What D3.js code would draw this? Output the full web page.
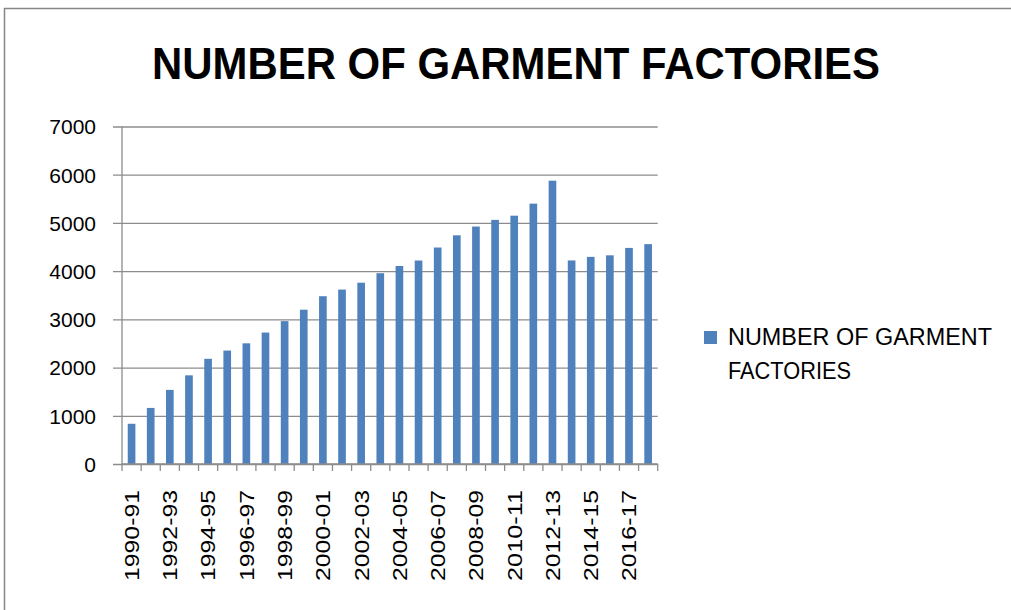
<!DOCTYPE html>
<html>
<head>
<meta charset="utf-8">
<script src="https://cdn.jsdelivr.net/npm/d3@7"></script>
<style>
  body { margin: 0; background: #fff; }
  svg { display: block; }
  text { font-family: "Liberation Sans", Arial, sans-serif; fill: #000; }
</style>
</head>
<body>
<svg></svg>
<script>
let years = ['1990-91','1991-92','1992-93','1993-94','1994-95','1995-96','1996-97','1997-98',
    '1998-99','1999-00','2000-01','2001-02','2002-03','2003-04','2004-05','2005-06','2006-07',
    '2007-08','2008-09','2009-10','2010-11','2011-12','2012-13','2013-14','2014-15','2015-16',
    '2016-17','2017-18'];
let factories = [834, 1163, 1537, 1839, 2182, 2353, 2503, 2726, 2963, 3200, 3480, 3618, 3760,
    3957, 4107, 4220, 4490, 4743, 4925, 5063, 5150, 5400, 5876, 4222, 4296, 4328, 4482, 4560];
let yTicks = [0, 1000, 2000, 3000, 4000, 5000, 6000, 7000];
let title = 'NUMBER OF GARMENT FACTORIES';
let legendLines = ['NUMBER OF GARMENT', 'FACTORIES'];

let width = 1011;
let height = 610;
let plotLeft = 122, plotRight = 657.7, plotTop = 126.5, plotBottom = 464;
let barColor = '#4f81bd';

let svg = d3.select('svg').attr('width', width).attr('height', height);

// chart frame
svg.append('rect')
    .attr('x', 4.5).attr('y', 8.5)
    .attr('width', width + 20).attr('height', height + 20)
    .attr('fill', 'none').attr('stroke', '#868686').attr('stroke-width', 1.5);

svg.append('text')
    .attr('x', 516).attr('y', 78.5)
    .attr('text-anchor', 'middle')
    .attr('font-size', 44).attr('font-weight', 'bold')
    .attr('textLength', 728).attr('lengthAdjust', 'spacingAndGlyphs')
    .text(title);

let xScale = d3.scaleBand()
    .domain(years)
    .range([plotLeft, plotRight])
    .paddingInner(0.6)
    .paddingOuter(0.3);

let yScale = d3.scaleLinear()
    .domain([0, 7000])
    .range([plotBottom, plotTop]);

// gridlines + y labels
let gridLen = plotRight - plotLeft + 9;
let yAxis = d3.axisLeft(yScale)
    .tickValues(yTicks)
    .tickSize(-gridLen)
    .tickFormat(d3.format('d'));

let yg = svg.append('g')
    .attr('transform', `translate(${plotRight}, 0)`)
    .call(yAxis);
yg.select('.domain').remove();
yg.selectAll('.tick line')
    .attr('x1', 0).attr('x2', -gridLen)
    .attr('stroke', '#8c8c8c').attr('stroke-width', 1.3);
yg.selectAll('.tick text')
    .attr('x', -gridLen - 17)
    .attr('text-anchor', 'end')
    .attr('font-size', 21).attr('fill', '#000')
    .attr('dy', '0.35em');

// y axis line
svg.append('line')
    .attr('x1', plotLeft).attr('x2', plotLeft)
    .attr('y1', plotTop).attr('y2', plotBottom)
    .attr('stroke', '#8c8c8c').attr('stroke-width', 1.3);

// bars
svg.selectAll('rect.bar')
    .data(factories)
    .enter()
    .append('rect')
    .attr('class', 'bar')
    .attr('x', (d, i) => xScale(years[i]))
    .attr('y', d => yScale(d))
    .attr('width', xScale.bandwidth())
    .attr('height', d => plotBottom - yScale(d))
    .attr('fill', barColor);

// x axis: line, boundary ticks, labels every other category
let step = xScale.step();
let xg = svg.append('g').attr('transform', `translate(0, ${plotBottom})`);
xg.append('line')
    .attr('x1', plotLeft).attr('x2', plotRight)
    .attr('stroke', '#8c8c8c').attr('stroke-width', 1.3);
xg.selectAll('line.tk')
    .data(d3.range(years.length + 1))
    .enter()
    .append('line')
    .attr('class', 'tk')
    .attr('x1', i => plotLeft + i * step).attr('x2', i => plotLeft + i * step)
    .attr('y1', 0).attr('y2', 7)
    .attr('stroke', '#8c8c8c').attr('stroke-width', 1.3);

let xAxis = d3.axisBottom(xScale)
    .tickValues(years.filter((d, i) => i % 2 === 0))
    .tickSize(0);
let xl = svg.append('g')
    .attr('transform', `translate(0, ${plotBottom})`)
    .call(xAxis);
xl.select('.domain').remove();
xl.selectAll('.tick text')
    .attr('transform', 'rotate(-90)')
    .attr('x', -26).attr('y', 0).attr('dy', '0.35em')
    .attr('text-anchor', 'end')
    .attr('font-size', 21).attr('fill', '#000')
    .attr('textLength', 91).attr('lengthAdjust', 'spacingAndGlyphs');

// legend
svg.append('rect')
    .attr('x', 704).attr('y', 331)
    .attr('width', 13).attr('height', 13)
    .attr('fill', barColor);
svg.selectAll('text.legend')
    .data(legendLines)
    .enter()
    .append('text')
    .attr('class', 'legend')
    .attr('x', 728)
    .attr('y', (d, i) => 345 + i * 34)
    .attr('font-size', 23)
    .attr('fill', '#222')
    .attr('textLength', (d, i) => i === 0 ? 264 : 123)
    .attr('lengthAdjust', 'spacingAndGlyphs')
    .text(d => d);
</script>
</body>
</html>
